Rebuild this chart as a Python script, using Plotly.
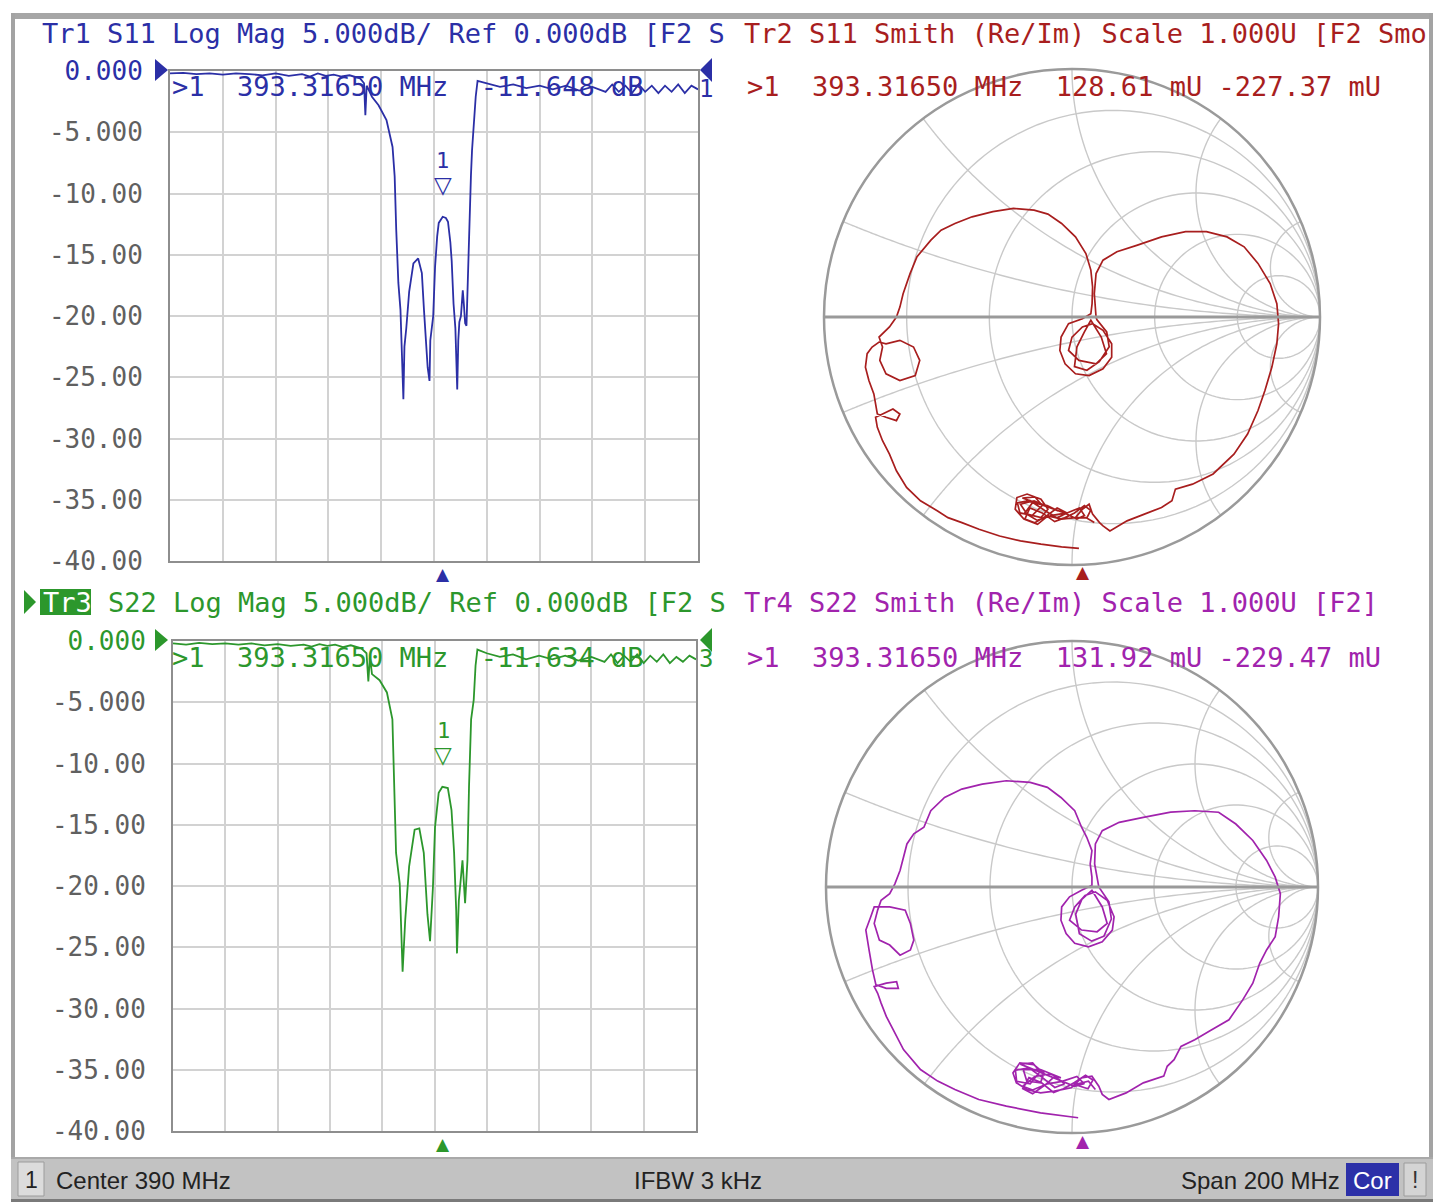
import numpy as np
import plotly.graph_objects as go

# ---------------- data ----------------
f_start, f_stop = 290.0, 490.0          # MHz
ifbw_text = "IFBW 3 kHz"
marker_freq = 393.3165                   # MHz
marker_s11_db = -11.648
marker_s22_db = -11.634
marker_s11_gamma = (128.61, -227.37)     # mU
marker_s22_gamma = (131.92, -229.47)     # mU

ytick_vals = [0, -5, -10, -15, -20, -25, -30, -35, -40]
ytick_text = ["0.000", "-5.000", "-10.00", "-15.00", "-20.00",
              "-25.00", "-30.00", "-35.00", "-40.00"]
smith_r_grid = [0.2, 0.5, 1, 2, 5]
smith_x_grid = [0.2, 0.5, 1, 2, 5]

s11_freq = [290, 295, 300, 305, 310, 315, 320, 325, 330, 335, 340, 343, 346, 349, 352, 355, 358,
            360, 362, 363.5, 364.0, 364.5, 366.5, 369, 372, 374.3, 375.1, 375.7, 376.5, 377.3,
            377.9, 378.4, 378.8, 379.5, 380.6, 382.2, 384.0, 385.4, 386.2, 386.9, 387.6, 388.3,
            388.6, 389.7, 390.4, 391.2, 391.8, 393.3, 394.5, 395.3, 396.2, 396.7, 397.4, 398.1,
            398.5, 398.8, 399.2, 399.6, 400.2, 400.9, 401.3, 401.8, 402.3, 402.8, 403.3, 404.0,
            404.4, 405.0, 405.8, 406.5, 410, 415, 420, 425, 430, 435, 440, 445, 450, 455,
            457.5, 460, 462.5, 465, 467.5, 470, 472.5, 475, 477.5, 480, 482.5, 485, 487.5, 490]
s11_db = [-0.2, -0.15, -0.25, -0.2, -0.3, -0.2, -0.25, -0.35, -0.2, -0.4, -0.25, -0.45, -0.2, -0.4,
          -0.3, -0.45, -0.35, -0.5, -0.6, -1.0, -3.6, -1.2, -2.1, -2.8, -4.0, -6.2, -8.6, -13.0,
          -17.3, -19.5, -24.0, -26.8, -22.5, -21.0, -18.0, -15.7, -15.3, -16.5, -19.5, -22.0,
          -24.2, -25.3, -22.0, -20.0, -16.0, -13.5, -12.4, -11.9, -12.0, -12.3, -14.0, -15.5,
          -19.0, -21.0, -24.5, -26.0, -22.0, -20.5, -20.0, -17.9, -19.0, -20.6, -20.8, -17.0,
          -12.0, -8.5, -6.5, -4.5, -2.1, -0.8, -1.0, -1.3, -1.1, -1.4, -1.2, -1.5, -1.2, -1.6,
          -1.3, -1.7, -1.1, -1.7, -1.2, -1.8, -1.1, -1.7, -1.2, -1.8, -1.2, -1.7, -1.1, -1.8,
          -1.2, -1.5]

s22_freq = [290, 295, 300, 305, 310, 315, 320, 325, 330, 335, 340, 343, 346, 349, 352, 355, 358,
            360, 362, 364.0, 364.7, 365.3, 366.1, 369, 371.8, 373.9, 374.6, 375.3, 376.7, 377.4,
            377.8, 378.8, 380.3, 382.4, 384.2, 385.9, 387.3, 388.3, 389.4, 390.2, 391.6, 393.0,
            395.1, 396.5, 397.5, 398.3, 398.6, 399.3, 400.7, 401.7, 402.6, 403.2, 404.0, 405.0,
            405.7, 406.4, 410, 415, 420, 425, 430, 435, 440, 445, 450, 455, 457.5, 460, 462.5,
            465, 467.5, 470, 472.5, 475, 477.5, 480, 482.5, 485, 487.5, 490]
s22_db = [-0.2, -0.3, -0.15, -0.25, -0.2, -0.3, -0.2, -0.35, -0.25, -0.4, -0.3, -0.45, -0.25, -0.4,
          -0.3, -0.5, -0.35, -0.5, -0.6, -1.0, -3.3, -1.3, -2.7, -3.2, -4.2, -6.4, -13.0, -17.3,
          -19.8, -23.5, -27.0, -22.8, -18.4, -15.4, -15.3, -17.3, -22.3, -24.5, -20.1, -15.2,
          -12.4, -11.9, -12.0, -13.8, -17.3, -22.0, -25.5, -21.2, -17.9, -21.4, -17.9, -11.9,
          -6.4, -4.8, -2.0, -0.7, -1.0, -1.3, -1.1, -1.5, -1.2, -1.5, -1.2, -1.6, -1.3, -1.7,
          -1.1, -1.8, -1.2, -1.7, -1.1, -1.8, -1.2, -1.7, -1.1, -1.8, -1.3, -1.7, -1.2, -1.5]

# reflection coefficient (Re, Im)
s11_gamma_re = [0.028, -0.042, -0.125, -0.208, -0.292, -0.375, -0.444, -0.500, -0.542, -0.611,
                -0.667, -0.708, -0.736, -0.764, -0.785, -0.792, -0.764, -0.722, -0.694, -0.708,
                -0.750, -0.785, -0.799, -0.819, -0.833, -0.826, -0.806, -0.778, -0.750, -0.694,
                -0.639, -0.614, -0.632, -0.694, -0.750, -0.775, -0.764, -0.778, -0.736, -0.708,
                -0.694, -0.681, -0.653, -0.625, -0.569, -0.528, -0.472, -0.403, -0.319, -0.236,
                -0.153, -0.097, -0.042, 0.014, 0.056, 0.076, 0.083, 0.081, 0.076, 0.042, -0.014,
                -0.044, -0.049, -0.028, 0.014, 0.069, 0.125, 0.160, 0.160, 0.125, 0.083, 0.042,
                0.000, -0.014, 0.028, 0.097, 0.139, 0.118, 0.076, 0.050, 0.020, 0.010, 0.060,
                0.110, 0.150, 0.140, 0.100, 0.097, 0.090, 0.097, 0.125,
                0.181, 0.264, 0.361, 0.458, 0.542, 0.625, 0.694, 0.750, 0.799, 0.826, 0.833,
                0.826, 0.806, 0.778, 0.750, 0.708, 0.653, 0.569, 0.486, 0.417, 0.403, 0.361,
                0.292, 0.222, 0.153, 0.125, 0.111, 0.083, 0.069, 0.042, 0.014, -0.042, -0.097,
                -0.139, -0.194, -0.229, -0.222, -0.181, -0.125, -0.097, -0.125, -0.181, -0.208,
                -0.153, -0.056, -0.100, -0.160, -0.190, -0.140, -0.080, -0.020, 0.030, 0.050,
                0.020, -0.030,
                -0.200, -0.150, -0.120, -0.160, -0.210, -0.220, -0.170, -0.110, -0.060, -0.020, -0.060,
                -0.100, -0.150, -0.190, -0.170, -0.120, -0.070, -0.030, 0.010, 0.050, 0.075, 0.060,
                0.000, 0.056, 0.090]
s11_gamma_im = [-0.933, -0.927, -0.916, -0.903, -0.883, -0.856, -0.829, -0.809, -0.782, -0.741,
                -0.687, -0.620, -0.553, -0.499, -0.445, -0.404, -0.391, -0.371, -0.391, -0.418,
                -0.404, -0.391, -0.310, -0.256, -0.202, -0.148, -0.121, -0.101, -0.108, -0.094,
                -0.121, -0.175, -0.236, -0.256, -0.229, -0.175, -0.121, -0.081, -0.040, 0.000,
                0.040, 0.094, 0.175, 0.243, 0.310, 0.350, 0.377, 0.404, 0.425, 0.438, 0.431,
                0.415, 0.377, 0.323, 0.256, 0.189, 0.121, 0.054, 0.013, -0.007, -0.027, -0.081,
                -0.135, -0.189, -0.229, -0.236, -0.209, -0.162, -0.108, -0.054, -0.027, -0.040,
                -0.081, -0.135, -0.175, -0.189, -0.148, -0.081, -0.013, -0.060, -0.120, -0.200,
                -0.215, -0.180, -0.120, -0.060, -0.010, 0.000, 0.094, 0.175,
                0.229, 0.263, 0.290, 0.323, 0.344, 0.344, 0.323, 0.283, 0.216, 0.135, 0.054,
                -0.027, -0.108, -0.202, -0.296, -0.377, -0.472, -0.553, -0.633, -0.674, -0.694,
                -0.741, -0.768, -0.795, -0.822, -0.863, -0.842, -0.829, -0.795, -0.755, -0.775,
                -0.809, -0.815, -0.802, -0.836, -0.815, -0.775, -0.728, -0.714, -0.735, -0.775,
                -0.809, -0.795, -0.755, -0.741, -0.782, -0.760, -0.750, -0.790, -0.820, -0.800,
                -0.790, -0.770, -0.800, -0.815, -0.790,
                -0.730, -0.725, -0.760, -0.800, -0.790, -0.750, -0.740, -0.780, -0.810, -0.790, -0.770,
                -0.800, -0.830, -0.815, -0.770, -0.790, -0.825, -0.810, -0.790, -0.760, -0.780, -0.810,
                -0.809, -0.809, -0.829]

s22_gamma_re = [0.025, -0.128, -0.267, -0.379, -0.476, -0.546, -0.616, -0.685, -0.727, -0.755, -0.776, -0.790, -0.804,
                -0.755, -0.713, -0.706, -0.755, -0.797,
                -0.811, -0.825, -0.838, -0.818, -0.804,
                -0.741, -0.678, -0.657, -0.643, -0.657, -0.699, -0.741, -0.783, -0.804, -0.790,
                -0.776, -0.741, -0.720, -0.699, -0.685, -0.671, -0.643, -0.602, -0.574, -0.518, -0.448, -0.365,
                -0.267, -0.170, -0.100, -0.045, 0.011, 0.039, 0.060, 0.081, 0.074, 0.081, 0.081,
                0.039, -0.010, -0.042, -0.045, -0.024, 0.011, 0.067, 0.123, 0.164, 0.171,
                0.143, 0.095, 0.053, 0.011, -0.010, 0.039, 0.102, 0.143, 0.123, 0.081,
                0.040, 0.015, 0.030, 0.080, 0.130, 0.160, 0.150, 0.109,
                0.092, 0.095, 0.123, 0.192, 0.290, 0.401, 0.499, 0.596, 0.666, 0.735,
                0.791, 0.826, 0.847, 0.840, 0.826, 0.791, 0.763, 0.735, 0.694, 0.638,
                0.568, 0.499, 0.443, 0.415, 0.387, 0.373, 0.290, 0.220, 0.150, 0.123,
                0.109, 0.081, 0.039, -0.003, -0.072, -0.128, -0.184, -0.226, -0.240,
                -0.212, -0.156, -0.114, -0.128, -0.184, -0.198, -0.128, -0.045,
                -0.090, -0.150, -0.200, -0.160, -0.100, -0.040, 0.020, 0.050, 0.010,
                -0.210, -0.160, -0.130, -0.170, -0.225, -0.230, -0.175, -0.120, -0.070, -0.030, -0.070,
                -0.110, -0.160, -0.200, -0.175, -0.125, -0.075, -0.035, 0.010, 0.055, 0.085, 0.065,
                0.011, 0.067, 0.095]
s22_gamma_im = [-0.938, -0.918, -0.891, -0.864, -0.823, -0.789, -0.742, -0.661, -0.580, -0.526, -0.472, -0.432, -0.405,
                -0.391, -0.385, -0.412, -0.412, -0.398,
                -0.337, -0.256, -0.175, -0.121, -0.081,
                -0.081, -0.094, -0.148, -0.216, -0.256, -0.277, -0.236, -0.216, -0.148, -0.094,
                -0.054, -0.027, 0.013, 0.067, 0.121, 0.175, 0.216, 0.243, 0.310, 0.364, 0.398, 0.418,
                0.432, 0.425, 0.405, 0.364, 0.310, 0.243, 0.202, 0.148, 0.094, 0.040, 0.007,
                -0.013, -0.040, -0.081, -0.135, -0.189, -0.229, -0.243, -0.223, -0.175, -0.121,
                -0.054, -0.020, -0.034, -0.081, -0.135, -0.175, -0.182, -0.148, -0.081, -0.013,
                -0.050, -0.110, -0.190, -0.220, -0.200, -0.130, -0.060, 0.000,
                0.094, 0.175, 0.229, 0.263, 0.283, 0.304, 0.310, 0.304, 0.256, 0.189,
                0.108, 0.040, -0.027, -0.121, -0.202, -0.256, -0.310, -0.391, -0.459, -0.540,
                -0.580, -0.621, -0.648, -0.702, -0.729, -0.769, -0.796, -0.837, -0.864, -0.843,
                -0.810, -0.769, -0.776, -0.816, -0.830, -0.837, -0.823, -0.796, -0.756,
                -0.715, -0.722, -0.756, -0.796, -0.789, -0.742, -0.742, -0.776,
                -0.760, -0.770, -0.810, -0.825, -0.800, -0.790, -0.770, -0.800, -0.810,
                -0.720, -0.715, -0.750, -0.800, -0.790, -0.745, -0.735, -0.775, -0.815, -0.800, -0.770,
                -0.805, -0.840, -0.820, -0.775, -0.795, -0.835, -0.820, -0.795, -0.765, -0.785, -0.820,
                -0.803, -0.789, -0.823]

# ---------------- styling helpers ----------------
W, H = 1434, 1202
def px(x):
    return x / W
def py(y):
    return 1 - y / H

BLUE = "#2b2fa6"
RED = "#a81e1e"
GREEN = "#2c972c"
PURPLE = "#a123ad"
GRID = "#d2d2d2"
SGRID = "#c9c9c9"
BORDER = "#8e8e8e"
LBL = "#606060"
MONO = "DejaVu Sans Mono"
SANS = "Liberation Sans"
NB = "\u00a0"
FS = 27


def gamma_to_z(re, im):
    g = np.asarray(re) + 1j * np.asarray(im)
    z = (1 + g) / (1 - g)
    return z.real, z.imag


def txt(x, y, s, color, size=FS, xanchor="left", family=MONO):
    return dict(x=px(x), y=py(y), xref="paper", yref="paper", text=s, showarrow=False,
                xanchor=xanchor, yanchor="middle", borderpad=0,
                font=dict(family=family, size=size, color=color))


def rect(x0, y0, x1, y1, fill, line=None, lw=0):
    return dict(type="rect", xref="paper", yref="paper", x0=px(x0), x1=px(x1),
                y0=py(y1), y1=py(y0), fillcolor=fill,
                line=dict(color=line or fill, width=lw), layer="above")


def tri(pts, color):
    d = "M " + " L ".join(f"{px(a):.5f},{py(b):.5f}" for a, b in pts) + " Z"
    return dict(type="path", path=d, xref="paper", yref="paper", fillcolor=color,
                line=dict(color=color, width=0), layer="above")


fig = go.Figure()

# Smith grid (constant resistance circles and constant reactance arcs)
sweep = np.logspace(-3, 3, 240)
imag_sweep = np.concatenate([-sweep[::-1], [0.0], sweep])
real_sweep = np.concatenate([[0.0], np.logspace(-4, 3, 300)])
for sub in ("smith", "smith2"):
    for r in smith_r_grid:
        fig.add_trace(go.Scattersmith(real=np.full(imag_sweep.size, r), imag=imag_sweep,
                                      subplot=sub, mode="lines", hoverinfo="skip",
                                      line=dict(color=SGRID, width=1.4), showlegend=False))
    for xv in smith_x_grid:
        for sgn in (1, -1):
            fig.add_trace(go.Scattersmith(real=real_sweep, imag=np.full(real_sweep.size, sgn * xv),
                                          subplot=sub, mode="lines", hoverinfo="skip",
                                          line=dict(color=SGRID, width=1.4), showlegend=False))

# log-mag traces
fig.add_trace(go.Scatter(x=s11_freq, y=s11_db, mode="lines", xaxis="x", yaxis="y",
                         line=dict(color=BLUE, width=1.8), showlegend=False))
fig.add_trace(go.Scatter(x=s22_freq, y=s22_db, mode="lines", xaxis="x2", yaxis="y2",
                         line=dict(color=GREEN, width=1.8), showlegend=False))

# Smith traces
z11r, z11i = gamma_to_z(s11_gamma_re, s11_gamma_im)
z22r, z22i = gamma_to_z(s22_gamma_re, s22_gamma_im)
fig.add_trace(go.Scattersmith(real=z11r, imag=z11i, subplot="smith", mode="lines",
                              line=dict(color=RED, width=1.7), showlegend=False))
fig.add_trace(go.Scattersmith(real=z22r, imag=z22i, subplot="smith2", mode="lines",
                              line=dict(color=PURPLE, width=1.7), showlegend=False))

xax = dict(range=[f_start, f_stop], tick0=f_start, dtick=(f_stop - f_start) / 10,
           showgrid=True, gridcolor=GRID, gridwidth=2, showticklabels=False, ticks="",
           zeroline=False, showline=True, linecolor=BORDER, linewidth=2, mirror=True,
           fixedrange=True, automargin=False)


def yax(first_color):
    tt = [f'<span style="color:{first_color}">{ytick_text[0]}</span>'] + ytick_text[1:]
    return dict(range=[-40, 0], tickvals=ytick_vals, ticktext=tt, ticks="outside", ticklen=20,
                tickcolor="rgba(0,0,0,0)", tickfont=dict(family=MONO, size=26, color=LBL),
                showgrid=True, gridcolor=GRID, gridwidth=2, zeroline=False, showline=True,
                linecolor=BORDER, linewidth=2, mirror=True, fixedrange=True, automargin=False)


smith_axis = dict(tickvals=smith_r_grid, showticklabels=False, ticks="", showgrid=False,
                  linecolor="#9a9a9a", linewidth=2.5)

fig.update_layout(
    width=W, height=H, autosize=False,
    margin=dict(l=0, r=0, t=0, b=0, pad=0, autoexpand=False),
    paper_bgcolor="white", plot_bgcolor="white", showlegend=False,
    xaxis=dict(xax, domain=[px(170), px(698)], anchor="y"),
    yaxis=dict(yax(BLUE), domain=[py(561), py(71)], anchor="x"),
    xaxis2=dict(xax, domain=[px(173), px(696)], anchor="y2"),
    yaxis2=dict(yax(GREEN), domain=[py(1131), py(641)], anchor="x2"),
    smith=dict(domain=dict(x=[px(824), px(1320)], y=[py(565), py(69)]), bgcolor="white",
               realaxis=dict(smith_axis, linewidth=3), imaginaryaxis=smith_axis),
    smith2=dict(domain=dict(x=[px(826), px(1318)], y=[py(1133), py(641)]), bgcolor="white",
                realaxis=dict(smith_axis, linewidth=3), imaginaryaxis=smith_axis),
)

center = (f_start + f_stop) / 2
span = f_stop - f_start

shapes = [
    rect(11, 13, 1433, 19, "#a6a6a6"),
    rect(11, 13, 15, 1200, "#a3a3a3"),
    rect(1429, 13, 1433, 1200, "#a3a3a3"),
    rect(11, 1157, 1433, 1202, "#c2c2c2"),
    rect(11, 1157, 1433, 1159, "#a9a9a9"),
    rect(11, 1199, 1433, 1202, "#7a7a7a"),
    rect(18, 1162, 44, 1196, "#dcdcdc", "#9c9c9c", 1),
    rect(1346, 1163, 1399, 1196, "#2c30a8"),
    rect(1404, 1163, 1426, 1196, "#d4d4d4", "#9c9c9c", 1),
    rect(40, 589, 91, 615, GREEN),
    tri([(24, 590), (36, 602), (24, 614)], GREEN),
    tri([(155, 59), (168, 70), (155, 81)], BLUE),
    tri([(712, 58), (700, 70), (712, 82)], BLUE),
    tri([(155, 629), (168, 640), (155, 651)], GREEN),
    tri([(712, 628), (700, 640), (712, 652)], GREEN),
]

ann = [
    txt(41, 34, "Tr1 S11 Log Mag 5.000dB/ Ref 0.000dB [F2 S", BLUE),
    txt(743, 34, "Tr2 S11 Smith (Re/Im) Scale 1.000U [F2 Smo", RED),
    txt(42, 602, "Tr3", "white"),
    txt(107, 602, "S22 Log Mag 5.000dB/ Ref 0.000dB [F2 S", GREEN),
    txt(743, 602, "Tr4 S22 Smith (Re/Im) Scale 1.000U [F2]", PURPLE),
    txt(171, 86, f">1{NB}{NB}{marker_freq:.5f} MHz{NB}{NB}{marker_s11_db:.3f} dB", BLUE),
    txt(171, 657, f">1{NB}{NB}{marker_freq:.5f} MHz{NB}{NB}{marker_s22_db:.3f} dB", GREEN),
    txt(746, 86, f">1{NB}{NB}{marker_freq:.5f} MHz{NB}{NB}{marker_s11_gamma[0]:.2f} mU "
                 f"{marker_s11_gamma[1]:.2f} mU", RED),
    txt(746, 657, f">1{NB}{NB}{marker_freq:.5f} MHz{NB}{NB}{marker_s22_gamma[0]:.2f} mU "
                  f"{marker_s22_gamma[1]:.2f} mU", PURPLE),
    txt(706, 89, "1", BLUE, size=24, xanchor="center"),
    txt(706, 659, "3", GREEN, size=24, xanchor="center"),
    # stimulus markers of the Smith charts
    txt(1083, 572, "▲", RED, size=17, xanchor="center", family="DejaVu Sans"),
    txt(1083, 1141, "▲", PURPLE, size=17, xanchor="center", family="DejaVu Sans"),
    # status bar
    txt(31, 1180, "1", "#222222", size=23, xanchor="center", family=SANS),
    txt(55, 1180, f"Center {center:g} MHz", "#222222", size=24, family=SANS),
    txt(698, 1180, ifbw_text, "#222222", size=24, xanchor="center", family=SANS),
    txt(1341, 1180, f"Span {span:g} MHz", "#222222", size=24, xanchor="right", family=SANS),
    txt(1372, 1180, "Cor", "white", size=24, xanchor="center", family=SANS),
    txt(1415, 1180, "!", "#333333", size=23, xanchor="center", family=SANS),
]

# marker symbols on the log-mag traces and stimulus triangles under the grids
for xr, yr, mdb, col in (("x", "y", marker_s11_db, BLUE), ("x2", "y2", marker_s22_db, GREEN)):
    ann.append(dict(x=marker_freq, y=mdb, xref=xr, yref=yr, text="▽", showarrow=False,
                    yanchor="bottom", yshift=14, font=dict(family="DejaVu Sans", size=23, color=col)))
    ann.append(dict(x=marker_freq, y=mdb, xref=xr, yref=yr, text="1", showarrow=False,
                    yanchor="bottom", yshift=39, font=dict(family=MONO, size=22, color=col)))
    ann.append(dict(x=marker_freq, y=0, xref=xr, yref=f"{yr} domain", text="▲", showarrow=False,
                    yanchor="top", yshift=-1, font=dict(family="DejaVu Sans", size=17, color=col)))

fig.update_layout(shapes=shapes, annotations=ann)

fig.write_html("out.html", config={"displayModeBar": False},
               post_script="document.body.style.margin='0';")
